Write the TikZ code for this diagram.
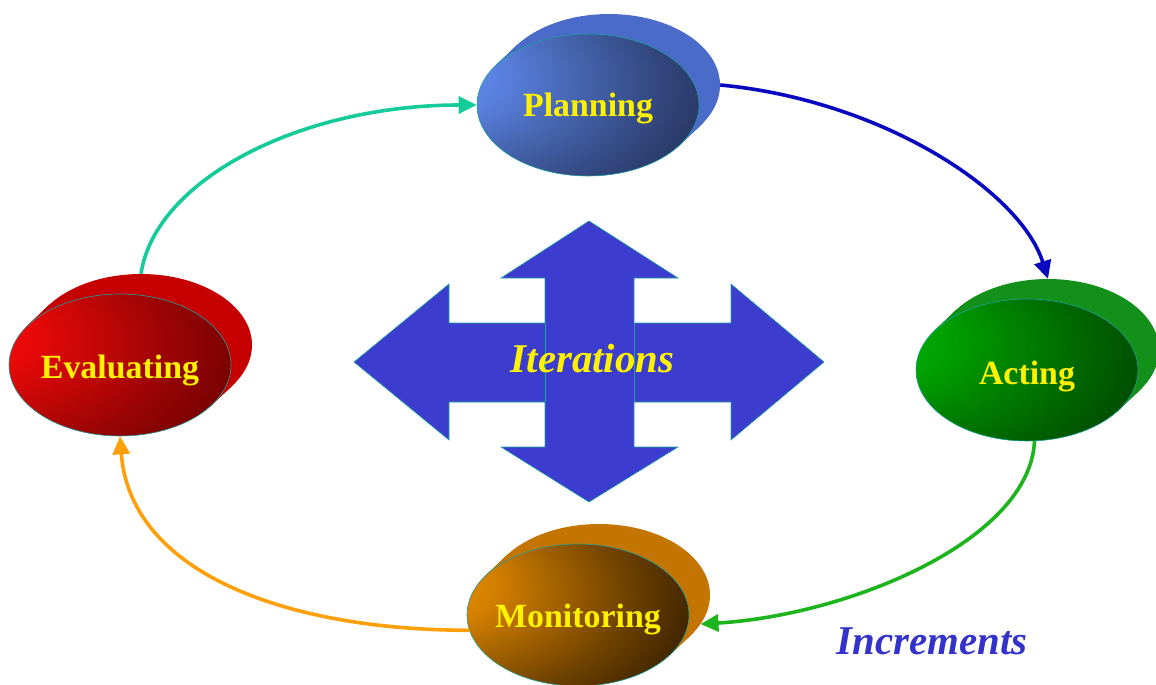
\documentclass[tikz,border=0pt]{standalone}
\usepackage{fontspec}
\setmainfont{Liberation Serif}
\usetikzlibrary{shapes.geometric,arrows.meta,calc}
\definecolor{planL}{HTML}{6390F8}
\definecolor{planD}{HTML}{1A2240}
\definecolor{planSide}{HTML}{4A6BC9}
\definecolor{evalL}{HTML}{FF0A0A}
\definecolor{evalD}{HTML}{560000}
\definecolor{evalSide}{HTML}{C60000}
\definecolor{actL}{HTML}{00B400}
\definecolor{actD}{HTML}{003400}
\definecolor{actSide}{HTML}{12901A}
\definecolor{monL}{HTML}{F59400}
\definecolor{monD}{HTML}{120900}
\definecolor{monSide}{HTML}{C47400}
\definecolor{crossL}{HTML}{3C3CCE}
\definecolor{crossD}{HTML}{262680}
\definecolor{edge}{HTML}{1FA3A0}
\definecolor{tealArrow}{HTML}{14CC99}
\definecolor{blueArrow}{HTML}{0808C0}
\definecolor{greenArrow}{HTML}{1EB41E}
\definecolor{orangeArrow}{HTML}{FFA00A}
\definecolor{incBlue}{HTML}{3333CC}
\pgfdeclareradialshading{planS}{\pgfpoint{-38bp}{12bp}}{color(0bp)=(planL); color(14bp)=(planL!85!planD); color(36bp)=(planL!40!planD); color(58bp)=(planD); color(100bp)=(planD)}
\pgfdeclareradialshading{evalS}{\pgfpoint{-38bp}{12bp}}{color(0bp)=(evalL); color(14bp)=(evalL!85!evalD); color(36bp)=(evalL!40!evalD); color(58bp)=(evalD); color(100bp)=(evalD)}
\pgfdeclareradialshading{actS}{\pgfpoint{-38bp}{12bp}}{color(0bp)=(actL); color(14bp)=(actL!85!actD); color(36bp)=(actL!40!actD); color(58bp)=(actD); color(100bp)=(actD)}
\pgfdeclareradialshading{monS}{\pgfpoint{-38bp}{12bp}}{color(0bp)=(monL); color(14bp)=(monL!85!monD); color(36bp)=(monL!40!monD); color(58bp)=(monD); color(100bp)=(monD)}
\pgfdeclareradialshading{crossS}{\pgfpoint{0bp}{0bp}}{color(0bp)=(crossL); color(25bp)=(crossL); color(55bp)=(crossD); color(100bp)=(crossD)}
\tikzset{
  face/.style={ellipse, minimum width=222bp, minimum height=142bp, inner sep=0pt, draw=edge, line width=0.6bp},
  backface/.style={ellipse, minimum width=222bp, minimum height=142bp, inner sep=0pt},
  label text/.style={text=yellow, font=\fontsize{34}{40}\selectfont\bfseries, anchor=base, inner sep=0pt},
  big text/.style={font=\fontsize{41}{48}\selectfont\bfseries\itshape, anchor=base, inner sep=0pt},
  link/.style={line width=3.6bp, -{Triangle[length=18bp,width=17bp]}},
}
\newcommand\myoval[7]{%
  \foreach \t in {0,0.04,...,1.001}
    \fill[#5] ($(#2,#3)+\t*(21,-20)$) ellipse [x radius=111bp, y radius=71bp];
  \node[backface] (#1B) at ($(#2,#3)+(21,-20)$) {};
  \node[face, shade, shading=#6] (#1) at (#2,#3) {};
  \node[label text] (#1T) at ($(#2,#3)+(0,#4)$) {#7};
}
\begin{document}
\begin{tikzpicture}[x=1bp,y=-1bp]
\useasboundingbox (0,0) rectangle (1156,685);
% central cross
\shade[shading=crossS, draw=edge, line width=0.6bp]
  (589,221) -- (678,278) -- (634,278) -- (634,323) -- (731,323) -- (731,284)
  -- (824,362) -- (731,440) -- (731,402) -- (634,402) -- (634,447) -- (678,447)
  -- (589,502) -- (501,447) -- (545,447) -- (545,402) -- (449,402) -- (449,440)
  -- (354,362) -- (449,284) -- (449,323) -- (545,323) -- (545,278) -- (501,278) -- cycle;
\draw[edge, line width=0.6bp] (545,323) -- (545,402) (634,323) -- (634,402);
\node[big text, text=yellow] (iter) at (592.5,372) {Iterations};
% ovals
\myoval{plan}{588}{105}{12}{planSide}{planS}{Planning}
\myoval{eval}{120}{365}{13}{evalSide}{evalS}{Evaluating}
\myoval{act}{1027}{370}{14}{actSide}{actS}{Acting}
\myoval{mon}{578}{615}{12}{monSide}{monS}{Monitoring}
% connectors
\draw[link, tealArrow] (evalB.north) .. controls (155,180) and (300,105) .. (plan.west);
\draw[link, blueArrow] (planB.east) .. controls (880,100) and (1020,190) .. (actB.north);
\draw[link, greenArrow] (act.-84) .. controls (1030,540) and (850,615) .. (monB.-16);
\draw[link, orangeArrow] (mon.188) .. controls (280,630) and (130,570) .. (eval.south);
% increments label
\node[big text, text=incBlue] (inc) at (932,654) {Increments};
\end{tikzpicture}
\end{document}
